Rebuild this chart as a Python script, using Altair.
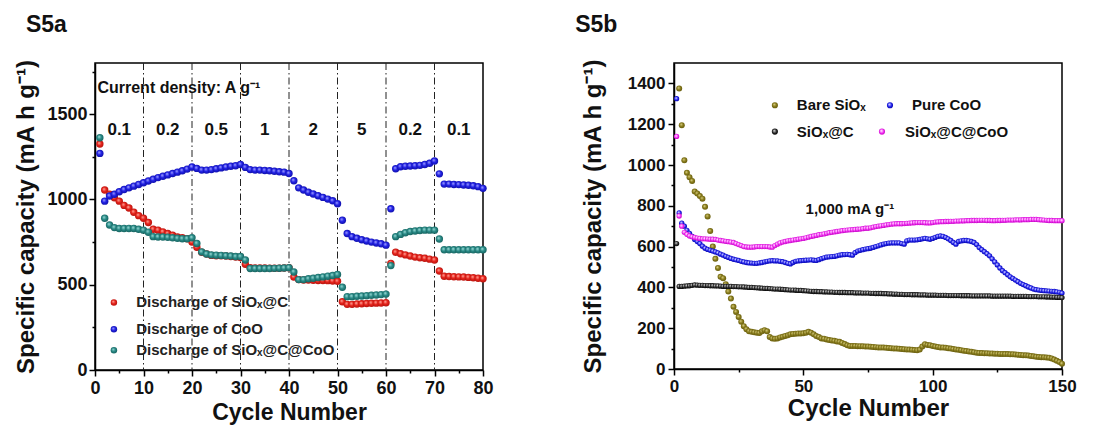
import altair as alt
import pandas as pd

FONT = "Liberation Sans"

# ---------------- S5a data (rate capability) ----------------
left_cycles = list(range(1, 81))
left_siox_c = [1325, 1055, 1030, 1010, 990, 965, 950, 925, 905, 890,
               865, 825, 820, 810, 800, 790, 780, 775, 770, 750,
               720, 690, 680, 672, 670, 670, 668, 665, 662, 660,
               620, 600, 598, 598, 598, 597, 597, 597, 598, 600,
               545, 530, 528, 527, 526, 525, 525, 524, 522, 520,
               400, 385, 385, 387, 388, 390, 391, 392, 393, 395,
               625, 690, 682, 675, 668, 662, 658, 655, 650, 645,
               580, 550, 548, 547, 546, 545, 543, 541, 538, 535]
left_coo = [1270, 990, 1020, 1030, 1045, 1058, 1068, 1078, 1088, 1098,
            1108, 1118, 1128, 1136, 1144, 1152, 1160, 1168, 1178, 1190,
            1182, 1172, 1172, 1175, 1180, 1185, 1190, 1195, 1198, 1205,
            1188, 1175, 1172, 1172, 1170, 1168, 1165, 1162, 1160, 1152,
            1110, 1068, 1055, 1042, 1032, 1022, 1012, 1002, 992, 975,
            878, 800, 782, 772, 764, 756, 750, 745, 740, 732,
            945, 1180, 1192, 1195, 1196, 1198, 1200, 1205, 1212, 1225,
            1150, 1090, 1090, 1088, 1087, 1085, 1083, 1080, 1075, 1065]
left_siox_c_coo = [1362, 890, 850, 835, 830, 830, 830, 830, 825, 820,
                   808, 782, 780, 780, 778, 775, 772, 770, 770, 775,
                   742, 692, 680, 675, 673, 672, 670, 668, 665, 665,
                   645, 595, 595, 595, 595, 595, 596, 597, 598, 600,
                   575, 530, 530, 535, 538, 542, 546, 550, 554, 560,
                   485, 430, 430, 432, 434, 436, 438, 440, 442, 445,
                   612, 782, 795, 805, 812, 815, 818, 820, 820, 820,
                   768, 705, 705, 705, 705, 705, 705, 705, 705, 705]
left_series = ["Discharge of SiOₓ@C", "Discharge of CoO", "Discharge of SiOₓ@C@CoO"]
rate_labels = ["0.1", "0.2", "0.5", "1", "2", "5", "0.2", "0.1"]
rate_x = [5, 15, 25, 35, 45, 55, 65, 75]
divider_x = [10, 20, 30, 40, 50, 60, 70]

# ---------------- S5b data (cycling at 1 A/g) ----------------
right_cycles = list(range(1, 151))
bare_cycles = list(range(2, 151))
bare_siox = [1375, 1195, 1023, 962, 940, 922, 870, 860, 848,
             835, 795, 748, 676, 600, 540, 495, 452, 445, 415,
             380, 345, 305, 280, 255, 232, 210, 195, 185, 182,
             180, 178, 177, 185, 190, 185, 157, 150, 148, 150,
             155, 158, 162, 165, 170, 172, 173, 174, 174, 175,
             178, 182, 178, 170, 162, 157, 150, 148, 145, 142,
             140, 138, 135, 133, 128, 122, 116, 113, 113, 113,
             112, 112, 111, 110, 110, 109, 108, 107, 106, 105,
             105, 104, 103, 102, 101, 100, 99, 98, 97, 96,
             95, 94, 93, 92, 95, 110, 121, 118, 116, 113,
             110, 108, 106, 105, 104, 102, 100, 98, 96, 94,
             92, 90, 88, 86, 84, 82, 80, 79, 78, 77,
             77, 76, 76, 75, 75, 74, 74, 73, 73, 72,
             72, 71, 70, 69, 68, 67, 66, 64, 62, 60,
             59, 58, 57, 56, 55, 52, 46, 40, 34, 26]
pure_coo = [1325, 765, 715, 700, 680, 665, 650, 635, 625, 615,
            602, 592, 586, 582, 578, 574, 569, 563, 558, 552,
            547, 542, 538, 535, 532, 528, 525, 522, 520, 519,
            518, 518, 520, 522, 525, 528, 530, 531, 530, 530,
            528, 526, 522, 518, 515, 522, 528, 530, 531, 532,
            533, 534, 535, 533, 532, 536, 541, 545, 548, 550,
            551, 552, 555, 558, 560, 561, 562, 560, 558, 570,
            578, 582, 585, 588, 590, 592, 596, 600, 604, 608,
            612, 615, 617, 618, 618, 618, 618, 615, 612, 628,
            632, 632, 632, 633, 635, 638, 640, 638, 636, 640,
            645, 650, 652, 650, 645, 638, 630, 620, 612, 625,
            628, 630, 630, 628, 625, 620, 610, 595, 585, 575,
            565, 555, 540, 525, 510, 495, 482, 472, 462, 452,
            444, 436, 428, 420, 414, 408, 402, 397, 392, 389,
            387, 385, 384, 383, 382, 381, 380, 378, 376, 372]
siox_c = [615, 405, 405, 406, 407, 408, 410, 412, 411, 410,
          410, 409, 409, 408, 408, 407, 407, 406, 405, 405,
          405, 405, 404, 404, 403, 403, 402, 401, 400, 400,
          399, 398, 397, 396, 395, 395, 394, 393, 392, 392,
          391, 390, 389, 388, 387, 387, 386, 385, 385, 384,
          383, 382, 381, 380, 380, 379, 379, 378, 378, 377,
          377, 376, 376, 375, 375, 375, 374, 374, 374, 373,
          373, 373, 372, 372, 372, 371, 371, 370, 370, 370,
          369, 369, 368, 368, 367, 367, 366, 366, 365, 365,
          365, 364, 364, 364, 363, 363, 363, 362, 362, 362,
          362, 361, 361, 361, 361, 360, 360, 360, 360, 360,
          359, 359, 359, 359, 358, 358, 358, 358, 358, 358,
          358, 358, 357, 357, 357, 357, 357, 357, 357, 357,
          356, 356, 356, 356, 356, 356, 355, 355, 355, 355,
          354, 354, 354, 353, 353, 352, 352, 351, 351, 350]
siox_c_coo = [1140, 750, 700, 670, 660, 652, 648, 645, 642, 640,
              638, 638, 637, 636, 636, 635, 632, 630, 628, 626,
              624, 622, 620, 615, 610, 605, 600, 598, 597, 597,
              598, 600, 600, 600, 600, 600, 598, 597, 605, 612,
              618, 622, 625, 628, 630, 632, 634, 636, 638, 640,
              643, 646, 650, 652, 655, 658, 660, 662, 665, 668,
              670, 672, 674, 676, 678, 680, 681, 682, 683, 684,
              685, 686, 688, 690, 690, 692, 695, 698, 700, 702,
              704, 706, 708, 710, 711, 712, 712, 712, 713, 714,
              715, 716, 717, 718, 718, 718, 717, 716, 716, 718,
              720, 721, 722, 722, 723, 723, 724, 724, 725, 725,
              726, 726, 727, 727, 728, 728, 728, 729, 729, 729,
              728, 728, 727, 727, 728, 728, 729, 729, 730, 730,
              730, 731, 731, 731, 732, 732, 732, 733, 733, 733,
              732, 731, 730, 729, 728, 728, 727, 727, 727, 727]
right_series = ["Bare SiOₓ", "Pure CoO", "SiOₓ@C", "SiOₓ@C@CoO"]


def sphere(light, base, dark, core="#ffffff", ring=False):
    if ring:
        stops = [alt.GradientStop(offset=0, color=core),
                 alt.GradientStop(offset=0.25, color=light),
                 alt.GradientStop(offset=0.6, color=base),
                 alt.GradientStop(offset=1, color=dark)]
    else:
        stops = [alt.GradientStop(offset=0, color=light),
                 alt.GradientStop(offset=0.45, color=base),
                 alt.GradientStop(offset=1, color=dark)]
    return alt.RadialGradient(gradient="radial", x1=0.38, y1=0.35, r1=0,
                              x2=0.5, y2=0.5, r2=0.6, stops=stops)


def axis(values, major_mod, title, label_size, title_pad, label_pad=3, title_size=24):
    return alt.Axis(values=values, title=title, grid=False, format="d",
                    labelExpr=f"datum.value % {major_mod} === 0 ? datum.label : ''",
                    tickSize={"condition": {"test": f"datum.value % {major_mod} === 0", "value": 6}, "value": 3},
                    tickColor="black", tickWidth=1.5, domainColor="black", domainWidth=1.5,
                    labelFont=FONT, labelFontSize=label_size, labelFontWeight="bold", labelColor="#111",
                    labelPadding=label_pad, labelOverlap=False, labelFlush=False,
                    titleFont=FONT, titleFontSize=title_size, titleFontWeight="bold", titleColor="#111",
                    titlePadding=title_pad)


# ---------------- Left panel ----------------
LX = alt.X("x:Q", scale=alt.Scale(domain=[0, 80], nice=False),
           axis=axis(list(range(0, 81, 5)), 10, "Cycle Number", 18, 4, title_size=23))
LY = alt.Y("y:Q", scale=alt.Scale(domain=[0, 1800], nice=False),
           axis=axis(list(range(0, 1751, 250)), 500, "Specific capacity (mA h g⁻¹)", 18, 8, 2))

left_fills = [sphere("#ffb3a8", "#e8241c", "#a80f0a"),
              sphere("#b0b0ff", "#2222e8", "#0c0c98"),
              sphere("#a8e2de", "#2a8c88", "#125855")]
left_values = [left_siox_c, left_coo, left_siox_c_coo]
leg_y_left = [396, 239, 116]

left_layers = []
div_df = pd.DataFrame({"x": divider_x})
left_layers.append(alt.Chart(div_df).mark_rule(color="#222", strokeWidth=1, strokeDash=[7, 3, 1.5, 3])
                   .encode(x=LX))
for vals, fill, ly, name in zip(left_values, left_fills, leg_y_left, left_series):
    df = pd.DataFrame({"x": left_cycles, "y": vals})
    left_layers.append(alt.Chart(df).mark_circle(fill=fill, size=55, opacity=1).encode(x=LX, y=LY))
    ldf = pd.DataFrame({"x": [3.9], "y": [ly], "t": [name]})
    left_layers.append(alt.Chart(ldf).mark_circle(fill=fill, size=42, opacity=1).encode(x=LX, y=LY))
    tdf = pd.DataFrame({"x": [8.5], "y": [ly], "t": [name]})
    left_layers.append(alt.Chart(tdf).mark_text(align="left", baseline="middle", font=FONT, fontSize=15,
                                                fontWeight="bold", color="#222")
                       .encode(x=LX, y=LY, text="t:N"))
rate_df = pd.DataFrame({"x": rate_x, "y": [1410] * len(rate_x), "t": rate_labels})
left_layers.append(alt.Chart(rate_df).mark_text(font=FONT, fontSize=17, fontWeight="bold", color="#111",
                                                baseline="middle")
                   .encode(x=LX, y=LY, text="t:N"))
cd_df = pd.DataFrame({"x": [0.5], "y": [1655], "t": ["Current density: A g⁻¹"]})
left_layers.append(alt.Chart(cd_df).mark_text(align="left", baseline="middle", font=FONT, fontSize=16,
                                              fontWeight="bold", color="#111")
                   .encode(x=LX, y=LY, text="t:N"))

left = alt.layer(*left_layers).properties(
    width=388, height=307,
    title=alt.TitleParams("S5a", anchor="start", frame="bounds", font=FONT, fontSize=23,
                          fontWeight="bold", color="#111", offset=22, dx=11))

# ---------------- Right panel ----------------
RX = alt.X("x:Q", scale=alt.Scale(domain=[0, 150], nice=False),
           axis=axis(list(range(0, 151, 25)), 50, "Cycle Number", 17, 2))
RY = alt.Y("y:Q", scale=alt.Scale(domain=[0, 1500], nice=False),
           axis=axis(list(range(0, 1401, 100)), 200, "Specific capacity (mA h g⁻¹)", 17, 22))

right_fills = [sphere("#e8df9a", "#8c7f1c", "#5c520a"),
               sphere("#8a8aff", "#1414e6", "#0a0a90", ring=True),
               sphere("#909090", "#1e1e1e", "#000000", ring=True),
               sphere("#ffa8ff", "#ee22ee", "#b000b0", ring=True)]
right_values = [(bare_cycles, bare_siox), (right_cycles, pure_coo),
                (right_cycles, siox_c), (right_cycles, siox_c_coo)]
right_sizes = [36, 28, 28, 28]
leg_sym_x = [39, 83.5, 39, 80.4]
leg_txt_x = [47.5, 92, 47.5, 89.3]
leg_y_right = [1293, 1293, 1164, 1164]

right_layers = []
for (cx, vals), fill, sz in zip(right_values, right_fills, right_sizes):
    df = pd.DataFrame({"x": cx, "y": vals})
    right_layers.append(alt.Chart(df).mark_circle(fill=fill, size=sz, opacity=1).encode(x=RX, y=RY))
for fill, sx, tx, ly, name in zip(right_fills, leg_sym_x, leg_txt_x, leg_y_right, right_series):
    sdf = pd.DataFrame({"x": [sx], "y": [ly]})
    right_layers.append(alt.Chart(sdf).mark_circle(fill=fill, size=38, opacity=1).encode(x=RX, y=RY))
    tdf = pd.DataFrame({"x": [tx], "y": [ly], "t": [name]})
    right_layers.append(alt.Chart(tdf).mark_text(align="left", baseline="middle", font=FONT, fontSize=15,
                                                 fontWeight="bold", color="#111")
                        .encode(x=RX, y=RY, text="t:N"))
ann_df = pd.DataFrame({"x": [68], "y": [784], "t": ["1,000 mA g⁻¹"]})
right_layers.append(alt.Chart(ann_df).mark_text(baseline="middle", font=FONT, fontSize=15,
                                                fontWeight="bold", color="#111")
                    .encode(x=RX, y=RY, text="t:N"))

right = alt.layer(*right_layers).properties(
    width=388, height=306,
    title=alt.TitleParams("S5b", anchor="start", frame="bounds", font=FONT, fontSize=23,
                          fontWeight="bold", color="#111", offset=22, dx=-6))

chart = alt.hconcat(left, right, spacing=80).properties(
    padding={"left": 14, "top": 12, "right": 5, "bottom": 3},
    background="white"
).configure_view(stroke="black", strokeWidth=1.5)

chart.save("out.html", embed_options={"renderer": "svg", "actions": False})
